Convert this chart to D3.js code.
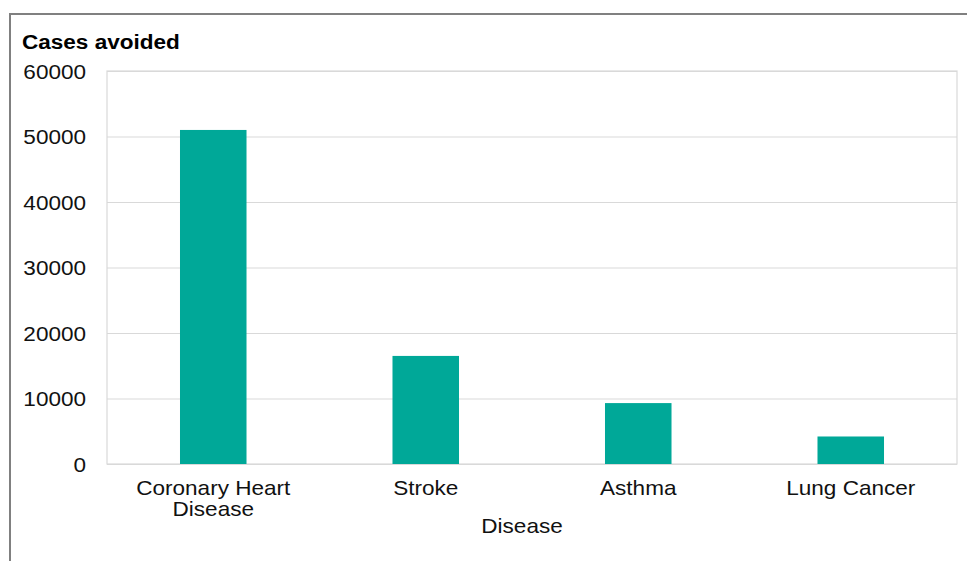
<!DOCTYPE html>
<html>
<head>
<meta charset="utf-8">
<script src="https://cdn.jsdelivr.net/npm/d3@7"></script>
<style>
  html, body { margin: 0; padding: 0; background: #fff; }
  svg { display: block; font-family: "Liberation Sans", Arial, Helvetica, sans-serif; }
</style>
</head>
<body>
<svg id="chart" width="967" height="561"></svg>
<script>
// Cases avoided, by disease
const categories = ["Coronary Heart Disease", "Stroke", "Asthma", "Lung Cancer"];
const casesAvoided = [51000, 16500, 9300, 4200];
const yTicks = [0, 10000, 20000, 30000, 40000, 50000, 60000];
const chartTitle = "Cases avoided";
const xAxisTitle = "Disease";

const W = 967, H = 561;
const plot = { left: 107, top: 71, right: 957, bottom: 464 };
const fontSize = 20.5;
const stretchX = 1.1;           // wide lettering
const barColor = "#00a898";
const gridColor = "#d9d9d9";

const svg = d3.select("#chart");

// outer frame (runs past the right and bottom edges)
svg.append("rect")
  .attr("x", 10).attr("y", 14)
  .attr("width", W + 20).attr("height", H + 20)
  .attr("fill", "none")
  .attr("stroke", "#808080")
  .attr("stroke-width", 2);

const x = d3.scaleBand()
  .domain(categories)
  .range([plot.left, plot.right])
  .paddingInner(0.687)
  .paddingOuter(0.3435);

const y = d3.scaleLinear()
  .domain([0, 60000])
  .range([plot.bottom, plot.top]);

// horizontal gridlines with value labels
const yAxis = svg.append("g")
  .attr("transform", `translate(${plot.left},0)`)
  .call(d3.axisLeft(y)
    .tickValues(yTicks)
    .tickSize(-(plot.right - plot.left))
    .tickFormat(d3.format("d")));
yAxis.select(".domain").remove();
yAxis.selectAll(".tick line")
  .attr("stroke", gridColor)
  .attr("stroke-width", 1.2);
yAxis.selectAll(".tick text")
  .attr("x", 0)
  .attr("dy", "0.35em")
  .attr("transform", `translate(-21,0) scale(${stretchX},1)`)
  .attr("text-anchor", "end")
  .attr("fill", "#111")
  .style("font-size", fontSize + "px");

// plot frame
svg.append("rect")
  .attr("x", plot.left).attr("y", plot.top)
  .attr("width", plot.right - plot.left)
  .attr("height", plot.bottom - plot.top)
  .attr("fill", "none")
  .attr("stroke", gridColor)
  .attr("stroke-width", 1.2);

// bars
svg.append("g")
  .selectAll("rect")
  .data(categories.map((c, i) => ({ c, v: casesAvoided[i] })))
  .join("rect")
  .attr("x", d => x(d.c))
  .attr("y", d => y(d.v))
  .attr("width", x.bandwidth())
  .attr("height", d => y(0) - y(d.v))
  .attr("fill", barColor);

// category labels, wrapped to the band step
const xAxis = svg.append("g")
  .attr("transform", `translate(0,${plot.bottom})`)
  .call(d3.axisBottom(x).tickSize(0).tickPadding(0));
xAxis.select(".domain").remove();
xAxis.selectAll(".tick text").each(function (d) {
  const t = d3.select(this);
  t.text(null)
    .attr("y", 0).attr("dy", null)
    .attr("transform", `translate(0,31) scale(${stretchX},1)`)
    .attr("text-anchor", "middle")
    .attr("fill", "#111")
    .style("font-size", fontSize + "px");
  const maxW = x.step() * 0.9 / stretchX;
  const words = d.split(" ");
  let lines = [], line = [];
  const probe = t.append("tspan");
  words.forEach(w => {
    const trial = line.concat(w).join(" ");
    probe.text(trial);
    if (line.length && probe.node().getComputedTextLength() > maxW) {
      lines.push(line.join(" "));
      line = [w];
    } else {
      line.push(w);
    }
  });
  lines.push(line.join(" "));
  probe.remove();
  lines.forEach((ln, i) => {
    t.append("tspan").attr("x", 0).attr("y", i * 21).text(ln);
  });
});

// chart title
svg.append("text")
  .attr("transform", `translate(22,49) scale(${stretchX},1)`)
  .attr("fill", "#000")
  .style("font-size", fontSize + "px")
  .style("font-weight", "bold")
  .text(chartTitle);

// axis title
svg.append("text")
  .attr("transform", `translate(522,533) scale(${stretchX},1)`)
  .attr("text-anchor", "middle")
  .attr("fill", "#111")
  .style("font-size", fontSize + "px")
  .text(xAxisTitle);
</script>
</body>
</html>
